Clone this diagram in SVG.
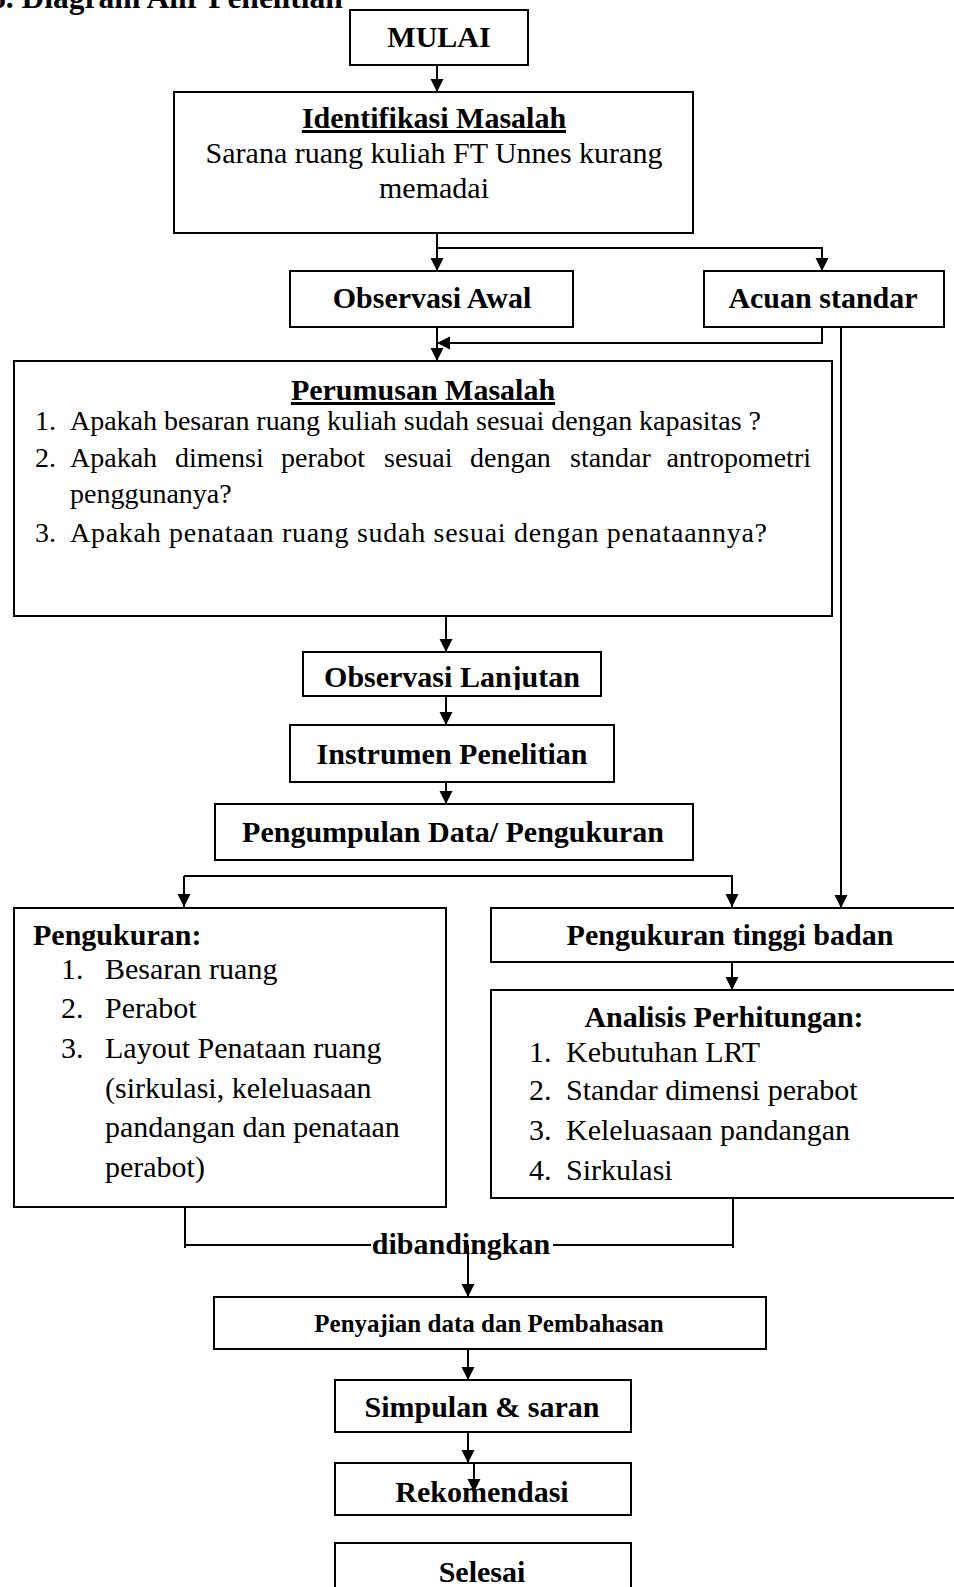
<svg xmlns="http://www.w3.org/2000/svg" width="954" height="1587" viewBox="0 0 954 1587">
<style>
.box{fill:#fff;stroke:#000;stroke-width:2}
.t{font-family:"Liberation Serif","Times New Roman",serif;font-size:30px;fill:#000}
.s28{font-size:28px}
.s25{font-size:25px}
.s31{font-size:31.5px}
.b{font-weight:bold}
.c{text-anchor:middle}
.e{text-anchor:end}
.u{text-decoration:underline}
.ln{fill:none;stroke:#000;stroke-width:2}
.arr{marker-end:url(#ah)}
</style>
<defs>
<marker id="ah" markerUnits="userSpaceOnUse" markerWidth="14" markerHeight="14" refX="13" refY="6.5" orient="auto">
<path d="M0,0 L13,6.5 L0,13 Z" fill="#000"/>
</marker>
<clipPath id="clipOL"><rect x="303" y="652" width="298" height="38"/></clipPath>
</defs>
<rect width="954" height="1587" fill="#fff"/>
<text class="t b s31" x="-10" y="8">6. Diagram Alir Penelitian</text>

<g id="connectors">
<path class="ln arr" d="M437,65 L437,92"/>
<path class="ln arr" d="M437,233 L437,271"/>
<path class="ln arr" d="M437,248 L822,248 L822,271"/>
<path class="ln arr" d="M437,327 L437,361"/>
<path class="ln arr" d="M822,327 L822,343 L437,343"/>
<path class="ln arr" d="M841,327 L841,908"/>
<path class="ln arr" d="M446,616 L446,652"/>
<path class="ln arr" d="M446,696 L446,725"/>
<path class="ln arr" d="M446,782 L446,804"/>
<path class="ln arr" d="M184,876 L184,907"/>
<path class="ln arr" d="M184,876 L732,876 L732,907"/>
<path class="ln arr" d="M732,962 L732,990"/>
<path class="ln" d="M185,1207 L185,1248"/>
<path class="ln" d="M185,1245 L371,1245"/>
<path class="ln" d="M553,1245 L733,1245"/>
<path class="ln" d="M733,1198 L733,1248"/>
<path class="ln arr" d="M468,1245 L468,1297"/>
<path class="ln arr" d="M468,1349 L468,1380"/>
<path class="ln arr" d="M468,1432 L468,1463"/>
<path class="ln arr" d="M474,1463 L474,1492" stroke-width="1.5"/>
</g>

<g id="mulai">
<rect class="box" x="350" y="10" width="178" height="55"/>
<text class="t b c" x="439" y="47">MULAI</text>
</g>
<g id="identifikasi">
<rect class="box" x="174" y="92" width="519" height="141"/>
<text class="t b c u" x="434" y="128">Identifikasi Masalah</text>
<text class="t c" x="434" y="163">Sarana ruang kuliah FT Unnes kurang</text>
<text class="t c" x="434" y="198">memadai</text>
</g>
<g id="observasi-awal">
<rect class="box" x="290" y="271" width="283" height="56"/>
<text class="t b c" x="432" y="308">Observasi Awal</text>
</g>
<g id="acuan-standar">
<rect class="box" x="704" y="271" width="240" height="56"/>
<text class="t b c" x="823" y="308">Acuan standar</text>
</g>
<g id="perumusan">
<rect class="box" x="14" y="361" width="818" height="255"/>
<text class="t b c u" x="423" y="400">Perumusan Masalah</text>
<text class="t s28" x="35" y="430">1.</text>
<text class="t s28" x="70" y="430" textLength="691" lengthAdjust="spacing">Apakah besaran ruang kuliah sudah sesuai dengan kapasitas ?</text>
<text class="t s28" x="35" y="467">2.<tspan x="70">Apakah</tspan><tspan x="175">dimensi</tspan><tspan x="281">perabot</tspan><tspan x="384">sesuai</tspan><tspan x="470">dengan</tspan><tspan x="570">standar</tspan></text>
<text class="t s28 e" x="811" y="467">antropometri</text>
<text class="t s28" x="70" y="503">penggunanya?</text>
<text class="t s28" x="35" y="542">3.</text>
<text class="t s28" x="70" y="542" textLength="697" lengthAdjust="spacing">Apakah penataan ruang sudah sesuai dengan penataannya?</text>
</g>
<g id="observasi-lanjutan">
<rect class="box" x="303" y="652" width="298" height="44"/>
<text class="t b c" x="452" y="687" clip-path="url(#clipOL)">Observasi Lanjutan</text>
</g>
<g id="instrumen">
<rect class="box" x="290" y="725" width="324" height="57"/>
<text class="t b c" x="452" y="764">Instrumen Penelitian</text>
</g>
<g id="pengumpulan">
<rect class="box" x="215" y="804" width="478" height="56"/>
<text class="t b c" x="453" y="842">Pengumpulan Data/ Pengukuran</text>
</g>
<g id="pengukuran">
<rect class="box" x="14" y="908" width="432" height="299"/>
<text class="t b" x="33" y="945">Pengukuran:</text>
<text class="t" x="61" y="979">1.<tspan x="105">Besaran ruang</tspan></text>
<text class="t" x="61" y="1018">2.<tspan x="105">Perabot</tspan></text>
<text class="t" x="61" y="1058">3.<tspan x="105">Layout Penataan ruang</tspan></text>
<text class="t" x="105" y="1098">(sirkulasi, keleluasaan</text>
<text class="t" x="105" y="1137">pandangan dan penataan</text>
<text class="t" x="105" y="1177">perabot)</text>
</g>
<g id="tinggi-badan">
<rect class="box" x="491" y="908" width="470" height="54"/>
<text class="t b c" x="730" y="945">Pengukuran tinggi badan</text>
</g>
<g id="analisis">
<rect class="box" x="491" y="990" width="470" height="208"/>
<text class="t b c" x="724" y="1027">Analisis Perhitungan:</text>
<text class="t" x="529" y="1062">1.<tspan x="566">Kebutuhan LRT</tspan></text>
<text class="t" x="529" y="1100">2.<tspan x="566">Standar dimensi perabot</tspan></text>
<text class="t" x="529" y="1140">3.<tspan x="566">Keleluasaan pandangan</tspan></text>
<text class="t" x="529" y="1180">4.<tspan x="566">Sirkulasi</tspan></text>
</g>
<g id="dibandingkan">
<text class="t b c" x="461" y="1254">dibandingkan</text>
</g>
<g id="penyajian">
<rect class="box" x="214" y="1297" width="552" height="52"/>
<text class="t b c s25" x="489" y="1332">Penyajian data dan Pembahasan</text>
</g>
<g id="simpulan">
<rect class="box" x="335" y="1380" width="296" height="52"/>
<text class="t b c" x="482" y="1417">Simpulan &amp; saran</text>
</g>
<g id="rekomendasi">
<rect class="box" x="335" y="1463" width="296" height="52" fill-opacity="0"/>
<text class="t b c" x="482" y="1502">Rekomendasi</text>
</g>
<g id="selesai">
<rect class="box" x="335" y="1543" width="296" height="60"/>
<text class="t b c" x="482" y="1582">Selesai</text>
</g>
</svg>
